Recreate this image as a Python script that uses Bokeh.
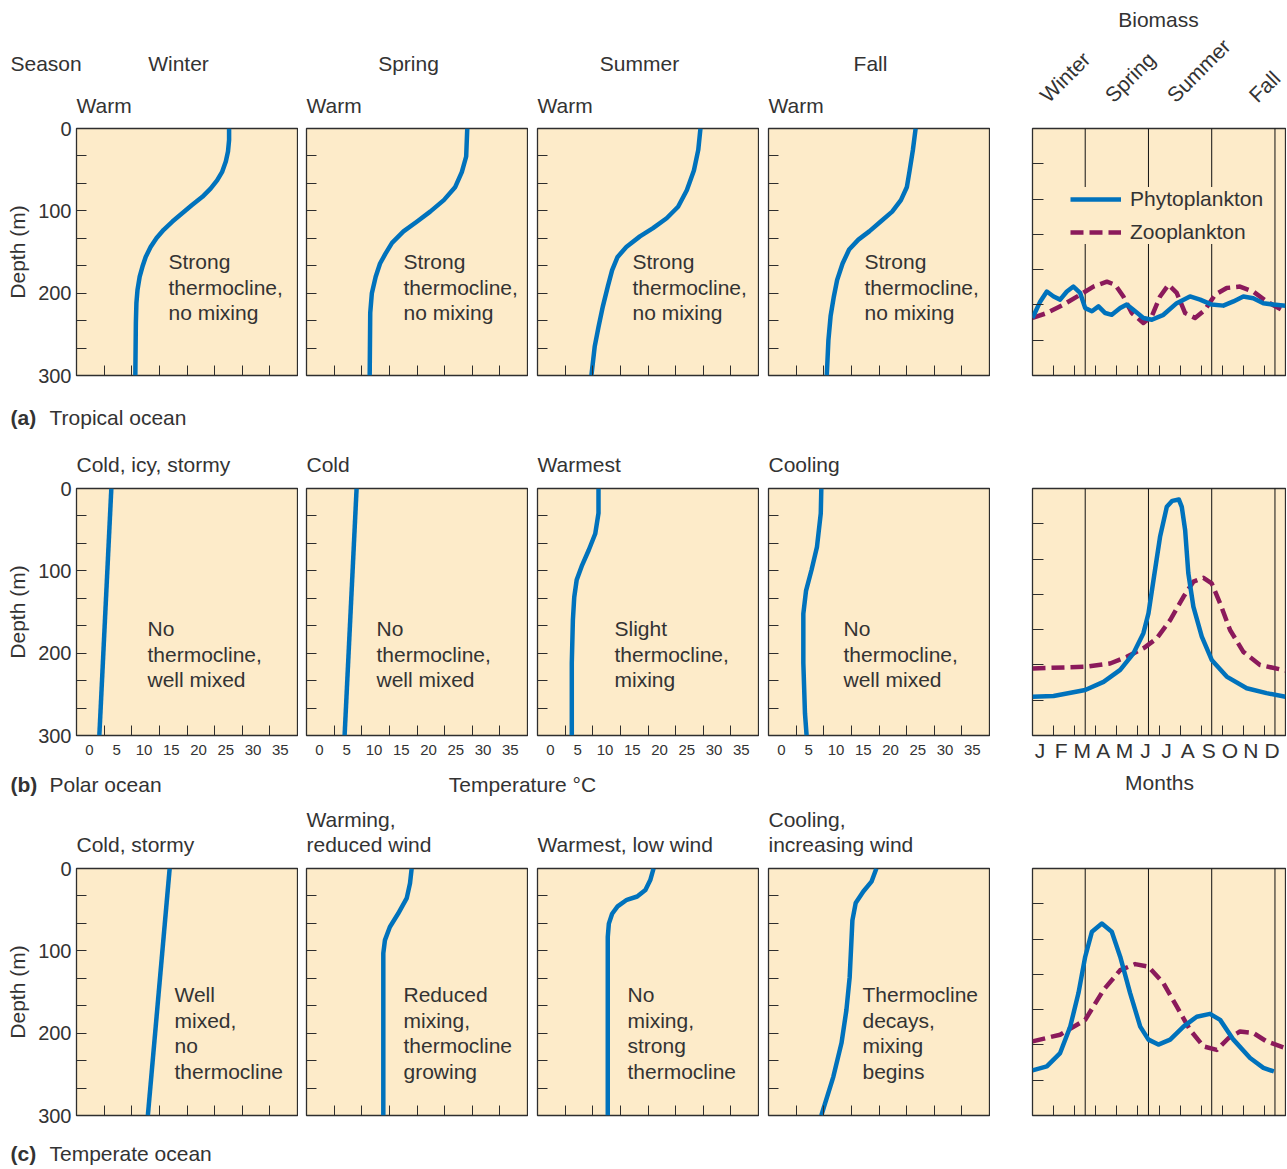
import math
from bokeh.plotting import figure
from bokeh.layouts import column, row
from bokeh.models import Range1d, FixedTicker, Label, Legend, LegendItem
from bokeh.embed import file_html
from bokeh.resources import INLINE

# ---------------- data ----------------
SEASONS = ["Winter", "Spring", "Summer", "Fall"]
MONTHS = ["J", "F", "M", "A", "M", "J", "J", "A", "S", "O", "N", "D"]
DEPTH_TICKS = [0, 100, 200, 300]
TEMP_TICKS = [0, 5, 10, 15, 20, 25, 30, 35]
SEASON_BOUNDS = [2.5, 5.5, 8.5, 11.5]

# (a) Tropical ocean: depth (m), temperature (°C)
a1_depth = [0, 14, 28, 40, 53, 63, 73, 83, 93, 103, 113, 123, 133, 144, 156, 168, 180, 196,
            212, 236, 300]
a1_temp = [25.6, 25.6, 25.4, 25.0, 24.3, 23.4, 22.2, 20.7, 18.8, 17.0, 15.2, 13.6, 12.3,
           11.2, 10.3, 9.7, 9.2, 8.8, 8.6, 8.5, 8.4]
a2_depth = [0, 34, 53, 71, 87, 101, 113, 125, 139, 152, 164, 180, 200, 224, 300]
a2_temp = [27.1, 26.9, 26.1, 24.9, 22.8, 20.3, 17.9, 15.4, 13.3, 12.1, 11.1, 10.3, 9.6, 9.3,
           9.2]
a3_depth = [0, 26, 51, 75, 95, 109, 121, 131, 144, 156, 172, 192, 216, 241, 265, 300]
a3_temp = [27.5, 27.1, 26.3, 25.0, 23.4, 21.3, 18.8, 16.4, 13.9, 12.3, 11.3, 10.5, 9.6, 8.8,
           8.1, 7.5]
a4_depth = [0, 26, 51, 71, 87, 101, 113, 125, 135, 147, 164, 184, 204, 228, 257, 300]
a4_temp = [24.6, 24.1, 23.5, 23.0, 21.9, 20.3, 18.2, 16.1, 14.1, 12.4, 11.2, 10.2, 9.6, 9.0,
           8.6, 8.3]

# (b) Polar ocean
b1_depth = [0, 300]
b1_temp = [4.0, 1.8]
b2_depth = [0, 300]
b2_temp = [6.8, 4.6]
b3_depth = [0, 30, 55, 75, 93, 111, 132, 160, 212, 300]
b3_temp = [8.8, 8.8, 8.2, 7.0, 5.8, 4.8, 4.35, 4.1, 3.9, 3.9]
b4_depth = [0, 30, 71, 99, 124, 152, 212, 273, 300]
b4_temp = [7.3, 7.2, 6.5, 5.5, 4.5, 4.0, 4.0, 4.3, 4.6]

# (c) Temperate ocean
c1_depth = [0, 300]
c1_temp = [14.7, 10.7]
c2_depth = [0, 18, 36, 55, 71, 87, 103, 300]
c2_temp = [16.9, 16.6, 16.0, 14.4, 12.9, 12.0, 11.7, 11.7]
c3_depth = [0, 14, 26, 34, 38, 46, 55, 67, 83, 300]
c3_temp = [18.9, 18.3, 17.4, 15.9, 14.0, 12.3, 11.3, 10.7, 10.5, 10.5]
c4_depth = [0, 16, 28, 42, 63, 91, 132, 172, 212, 253, 300]
c4_temp = [17.4, 16.5, 15.0, 13.6, 13.0, 12.8, 12.5, 11.9, 11.0, 9.5, 7.3]

# Biomass (month position 0-12, relative biomass)
a_phyto_m = [0.0, 0.37, 0.68, 1.0, 1.31, 1.63, 1.94, 2.26, 2.5, 2.82, 3.13, 3.45, 3.76, 4.16,
             4.47, 4.87, 5.26, 5.66, 6.21, 6.84, 7.47, 7.95, 8.5, 9.05, 9.53, 10.0, 10.47,
             10.95, 11.42, 12.0]
a_phyto_v = [1.63, 2.10, 2.38, 2.24, 2.15, 2.38, 2.52, 2.34, 1.91, 1.82, 1.96, 1.77, 1.72, 1.91,
             2.01, 1.82, 1.63, 1.58, 1.72, 2.05, 2.24, 2.15, 2.01, 1.98, 2.10, 2.24, 2.19,
             2.05, 2.01, 1.98]
a_zoo_m = [0.0, 0.68, 1.47, 2.26, 2.89, 3.53, 3.92, 4.31, 4.71, 5.26, 5.66, 6.05, 6.45, 6.84,
           7.24, 7.71, 8.18, 8.66, 9.21, 9.84, 10.47, 11.1, 12.0]
a_zoo_v = [1.63, 1.77, 2.01, 2.29, 2.52, 2.66, 2.57, 2.24, 1.77, 1.49, 1.68, 2.24, 2.57, 2.34,
           1.77, 1.63, 1.86, 2.29, 2.48, 2.52, 2.38, 2.10, 1.80]

b_phyto_m = [0.0, 1.0, 2.5, 3.37, 4.16, 4.79, 5.26, 5.5, 5.74, 6.05, 6.37, 6.63, 6.94, 7.08,
             7.24, 7.39, 7.63, 8.03, 8.5, 9.21, 10.16, 11.1, 12.0]
b_phyto_v = [1.10, 1.12, 1.29, 1.52, 1.86, 2.33, 2.90, 3.46, 4.41, 5.63, 6.48, 6.65, 6.69, 6.48,
             5.82, 4.60, 3.65, 2.80, 2.14, 1.67, 1.34, 1.20, 1.10]
b_zoo_m = [0.0, 2.58, 3.68, 4.47, 5.26, 5.89, 6.53, 7.16, 7.63, 8.11, 8.5, 8.9, 9.37, 10.0,
           10.79, 12.0]
b_zoo_v = [1.90, 1.95, 2.04, 2.23, 2.47, 2.75, 3.27, 3.93, 4.36, 4.47, 4.31, 3.74, 2.99, 2.37,
           2.00, 1.84]

c_phyto_m = [0.0, 0.68, 1.31, 1.79, 2.18, 2.5, 2.82, 3.29, 3.76, 4.16, 4.63, 5.11, 5.5, 5.97,
             6.53, 7.16, 7.79, 8.42, 8.9, 9.53, 10.32, 10.95, 11.45]
c_phyto_v = [1.28, 1.39, 1.77, 2.52, 3.47, 4.50, 5.21, 5.44, 5.21, 4.50, 3.47, 2.52, 2.15, 2.01,
             2.15, 2.52, 2.80, 2.88, 2.71, 2.15, 1.63, 1.35, 1.25]
c_zoo_m = [0.0, 1.31, 2.5, 3.37, 4.16, 4.87, 5.5, 6.21, 6.84, 7.47, 8.11, 8.74, 9.29, 9.84,
           10.47, 11.1, 12.0]
c_zoo_v = [2.10, 2.29, 2.71, 3.56, 4.12, 4.29, 4.22, 3.75, 3.09, 2.43, 1.96, 1.86, 2.19, 2.38,
           2.34, 2.10, 1.91]

# ---------------- style ----------------
FONT = "Liberation Sans"
TXT = "#333333"
PANEL = "#FDEBC9"
BLUE = "#0072BC"
MAROON = "#8B1A5B"
EDGE = "#2e2e2e"
FW, FH, BW = 221, 247, 253
TOTAL_W = 1286
T_START, T_END = -2.39, 38.15
FS = "21px"
TICK_FS = "20px"
LEFTS = [76, 8, 9, 9]
FRAME_X = [76, 306, 537, 768]   # frame left edges on the page
TOP = 12


def lab(p, x, y, text, align="left", size=FS, bold=False, angle=0.0, baseline="middle"):
    p.add_layout(Label(x=x, y=y, x_units="screen", y_units="screen", text=text,
                       text_font=FONT, text_font_size=size, text_color=TXT,
                       text_align=align, text_baseline=baseline, angle=angle,
                       text_font_style="bold" if bold else "normal"))


def strip(height):
    s = figure(width=TOTAL_W, height=height, output_backend="svg", toolbar_location=None,
               x_range=Range1d(0, 1), y_range=Range1d(0, 1), x_axis_type=None,
               y_axis_type=None, min_border=0, outline_line_color=None,
               background_fill_color="white", border_fill_color="white")
    s.grid.visible = False
    return s


def base_fig(width, height, left, top, bottom, xr, yr):
    p = figure(width=width, height=height, output_backend="svg", toolbar_location=None,
               x_range=xr, y_range=yr, min_border_left=left, min_border_right=1,
               min_border_top=top, min_border_bottom=bottom,
               background_fill_color=PANEL, border_fill_color="white",
               outline_line_color=EDGE, outline_line_width=1.3)
    p.grid.visible = False
    for ax in (p.xaxis[0], p.yaxis[0]):
        ax.axis_line_color = None
        ax.major_tick_out = 0
        ax.minor_tick_out = 0
        ax.major_tick_in = 0
        ax.minor_tick_in = 10
        ax.major_tick_line_color = EDGE
        ax.minor_tick_line_color = EDGE
        ax.major_label_text_font = FONT
        ax.major_label_text_color = TXT
        ax.major_label_text_font_size = TICK_FS
    return p


def depth_panel(left, top, bottom, depth, temp, first, temp_labels):
    p = base_fig(left + FW + 1, top + FH + bottom, left, top, bottom,
                 Range1d(T_START, T_END), Range1d(300, 0))
    ya = p.yaxis[0]
    inner = [100 * k / 3 for k in (1, 2, 4, 5, 7, 8)]
    if first:
        ya.ticker = FixedTicker(ticks=DEPTH_TICKS, minor_ticks=inner)
        ya.major_tick_in = 10
        ya.axis_label = "Depth (m)"
        ya.axis_label_text_font = FONT
        ya.axis_label_text_font_size = FS
        ya.axis_label_text_font_style = "normal"
        ya.axis_label_text_color = TXT
        ya.axis_label_standoff = 6
    else:
        ya.ticker = FixedTicker(ticks=[], minor_ticks=sorted(inner + [100, 200]))
        ya.major_label_standoff = 0
    xa = p.xaxis[0]
    step = (T_END - T_START) / 8
    xa.ticker = FixedTicker(ticks=TEMP_TICKS if temp_labels else [],
                            minor_ticks=[T_START + k * step for k in range(1, 8)])
    if temp_labels:
        xa.major_label_text_font_size = "15px"
        xa.major_label_standoff = 9
    else:
        xa.major_label_standoff = 0
    p.line(temp, depth, line_color=BLUE, line_width=4.5, line_join="round")
    return p


def bio_panel(top, bottom, pm, pv, zm, zv, months=False, legend=False):
    left = 42
    p = base_fig(left + BW + 1, top + FH + bottom, left, top, bottom,
                 Range1d(0, 12), Range1d(0, 7))
    p.segment(x0=SEASON_BOUNDS, y0=0, x1=SEASON_BOUNDS, y1=7, line_color="#111111",
              line_width=1)
    ya = p.yaxis[0]
    ya.ticker = FixedTicker(ticks=[], minor_ticks=[1, 2, 3, 4, 5, 6])
    ya.minor_tick_in = 11
    ya.major_label_standoff = 0
    xa = p.xaxis[0]
    centers = [k + 0.36 for k in range(12)]
    xa.ticker = FixedTicker(ticks=centers if months else [], minor_ticks=list(range(1, 12)))
    if months:
        xa.major_label_text_font_size = FS
        xa.major_label_standoff = 3
        xa.major_label_overrides = {c: m for c, m in zip(centers, MONTHS)}
    else:
        xa.major_label_standoff = 0
    r_zoo = p.line(zm, zv, line_color=MAROON, line_width=4.5, line_dash="13 6",
                   line_join="round")
    r_phy = p.line(pm, pv, line_color=BLUE, line_width=4.5, line_join="round")
    if legend:
        lg = Legend(items=[LegendItem(label="Phytoplankton", renderers=[r_phy]),
                           LegendItem(label="Zooplankton", renderers=[r_zoo])],
                    location=(38, 131), padding=8, margin=0, spacing=9,
                    glyph_width=51, glyph_height=20, label_height=20, label_standoff=9,
                    label_text_font=FONT, label_text_font_size=FS, label_text_color=TXT,
                    border_line_color=None, background_fill_color=PANEL,
                    background_fill_alpha=1.0)
        p.add_layout(lg)
    return p


# ---------------- header (a) ----------------
head_a = strip(116)
lab(head_a, 1158, 97, "Biomass", align="center")
lab(head_a, 10, 53, "Season")
for xx, s in zip([178, 408, 639, 870], SEASONS):
    lab(head_a, xx, 53, s, align="center")
for fx in FRAME_X:
    lab(head_a, fx, 11, "Warm")
for xx, s in zip([1043, 1108, 1170, 1252], SEASONS):
    lab(head_a, xx, 18, s, angle=math.pi / 4, baseline="alphabetic")

# ---------------- band (a) ----------------
BOT_A = 20
prof_a = [(a1_depth, a1_temp), (a2_depth, a2_temp), (a3_depth, a3_temp), (a4_depth, a4_temp)]
figs_a = []
text_x_a = [92, 97, 95, 96]
for i, (d, t) in enumerate(prof_a):
    p = depth_panel(LEFTS[i], TOP, BOT_A, d, t, i == 0, False)
    for yy, line in zip([114, 88.5, 63], ["Strong", "thermocline,", "no mixing"]):
        lab(p, text_x_a[i], yy, line)
    figs_a.append(p)
bio_a = bio_panel(TOP, BOT_A, a_phyto_m, a_phyto_v, a_zoo_m, a_zoo_v, legend=True)
band_a = row(*figs_a, bio_a)

foot_a = strip(43)
lab(foot_a, 10, 21, "(a)", bold=True)
lab(foot_a, 49, 21, "Tropical ocean")

# ---------------- band (b) ----------------
head_b = strip(38)
cond_b = ["Cold, icy, stormy", "Cold", "Warmest", "Cooling"]
for fx, c in zip(FRAME_X, cond_b):
    lab(head_b, fx, 12, c)

BOT_B = 30
prof_b = [(b1_depth, b1_temp), (b2_depth, b2_temp), (b3_depth, b3_temp), (b4_depth, b4_temp)]
notes_b = [["No", "thermocline,", "well mixed"], ["No", "thermocline,", "well mixed"],
           ["Slight", "thermocline,", "mixing"], ["No", "thermocline,", "well mixed"]]
text_x_b = [71, 70, 77, 75]
figs_b = []
for i, (d, t) in enumerate(prof_b):
    p = depth_panel(LEFTS[i], TOP, BOT_B, d, t, i == 0, True)
    for yy, line in zip([107, 81.5, 56], notes_b[i]):
        lab(p, text_x_b[i], yy, line)
    figs_b.append(p)
bio_b = bio_panel(TOP, BOT_B, b_phyto_m, b_phyto_v, b_zoo_m, b_zoo_v, months=True)
band_b = row(*figs_b, bio_b)

foot_b = strip(43)
lab(foot_b, 10, 24, "(b)", bold=True)
lab(foot_b, 49, 24, "Polar ocean")
lab(foot_b, 522, 24, "Temperature °C", align="center")
lab(foot_b, 1159, 26, "Months", align="center")

# ---------------- band (c) ----------------
head_c = strip(48)
cond_c = [["Cold, stormy"], ["Warming,", "reduced wind"], ["Warmest, low wind"],
          ["Cooling,", "increasing wind"]]
for fx, cl in zip(FRAME_X, cond_c):
    ys = [12] if len(cl) == 1 else [37, 12]
    for yy, line in zip(ys, cl):
        lab(head_c, fx, yy, line)

BOT_C = 20
prof_c = [(c1_depth, c1_temp), (c2_depth, c2_temp), (c3_depth, c3_temp), (c4_depth, c4_temp)]
notes_c = [["Well", "mixed,", "no", "thermocline"],
           ["Reduced", "mixing,", "thermocline", "growing"],
           ["No", "mixing,", "strong", "thermocline"],
           ["Thermocline", "decays,", "mixing", "begins"]]
text_x_c = [98, 97, 90, 94]
figs_c = []
for i, (d, t) in enumerate(prof_c):
    p = depth_panel(LEFTS[i], TOP, BOT_C, d, t, i == 0, False)
    for yy, line in zip([121, 95.5, 70, 44.5], notes_c[i]):
        lab(p, text_x_c[i], yy, line)
    figs_c.append(p)
bio_c = bio_panel(TOP, BOT_C, c_phyto_m, c_phyto_v, c_zoo_m, c_zoo_v)
band_c = row(*figs_c, bio_c)

foot_c = strip(32)
lab(foot_c, 10, 14, "(c)", bold=True)
lab(foot_c, 49, 14, "Temperate ocean")

layout = column(head_a, band_a, foot_a, head_b, band_b, foot_b, head_c, band_c, foot_c)
open("out.html", "w").write(file_html(layout, INLINE))
